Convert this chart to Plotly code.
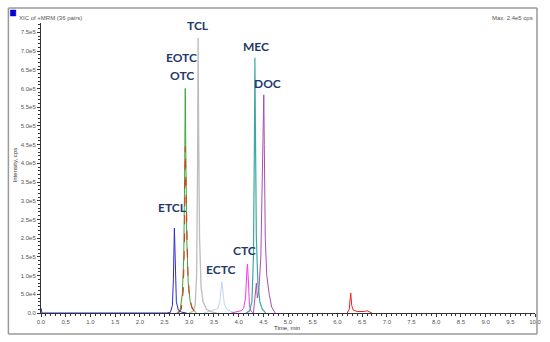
import plotly.graph_objects as go

# ---- data (time in min, intensity in cps) ----
etcl_t = [0.0, 0.02, 2.55, 2.62, 2.66, 2.68, 2.70, 2.72, 2.74, 2.78, 2.85, 2.95]
etcl_y = [1.3e4, 0, 0, 2e3, 2e4, 9e4, 2.27e5, 1.0e5, 3e4, 8e3, 2e3, 0]

otc_t = [2.75, 2.82, 2.86, 2.89, 2.91, 2.92, 2.93, 2.95, 2.98, 3.02, 3.08, 3.15]
otc_y = [0, 1e4, 5e4, 1.5e5, 4e5, 6.0e5, 4.5e5, 2e5, 8e4, 3e4, 8e3, 0]

eotc_t = [2.78, 2.84, 2.88, 2.905, 2.92, 2.93, 2.94, 2.95, 2.97, 3.0, 3.05, 3.12, 3.18]
eotc_y = [0, 1e4, 6e4, 2e5, 4.45e5, 3.6e5, 2.9e5, 2.8e5, 1.2e5, 5e4, 1.5e4, 4e3, 0]

red2_t = [6.2, 6.24, 6.26, 6.27, 6.29, 6.32, 6.4, 6.5, 6.55, 6.6, 6.65, 6.7]
red2_y = [0, 1e4, 4e4, 5.3e4, 2e4, 8e3, 4e3, 3e3, 4e3, 6e3, 2e3, 0]

tcl_t = [3.0, 3.08, 3.12, 3.15, 3.17, 3.18, 3.19, 3.21, 3.24, 3.28, 3.35, 3.45, 3.55]
tcl_y = [0, 5e3, 2e4, 1e5, 4e5, 7.35e5, 5e5, 2e5, 7e4, 3e4, 1e4, 3e3, 0]

ectc_t = [3.3, 3.4, 3.5, 3.58, 3.62, 3.65, 3.66, 3.68, 3.71, 3.76, 3.85, 3.95]
ectc_y = [0, 5e3, 8e3, 1.2e4, 3e4, 7e4, 8.3e4, 6e4, 2.5e4, 1e4, 4e3, 0]

ctc_t = [3.85, 3.95, 4.05, 4.1, 4.14, 4.17, 4.18, 4.2, 4.22, 4.25, 4.3]
ctc_y = [0, 3e3, 6e3, 1.2e4, 4e4, 1.2e5, 1.31e5, 8e4, 2e4, 5e3, 0]

mec_t = [4.15, 4.22, 4.27, 4.30, 4.32, 4.33, 4.34, 4.36, 4.39, 4.43, 4.48, 4.55]
mec_y = [0, 5e3, 3e4, 1.5e5, 4.5e5, 6.82e5, 5e5, 2e5, 8e4, 3e4, 1e4, 0]

doc_t = [4.30, 4.34, 4.36, 4.38, 4.41, 4.45, 4.48, 4.50, 4.51, 4.52, 4.54, 4.57, 4.62, 4.67, 4.70, 4.74]
doc_y = [0, 5e4, 8e4, 4e4, 6e4, 1.5e5, 3.5e5, 5.5e5, 5.83e5, 4.5e5, 2e5, 1e5, 5e4, 1.6e4, 8e3, 0]

labels = ["ETCL", "EOTC", "OTC", "TCL", "ECTC", "CTC", "MEC", "DOC"]
label_t = [2.66, 2.84, 2.86, 3.18, 3.65, 4.12, 4.35, 4.59]
label_y = [2.81e5, 6.82e5, 6.34e5, 7.67e5, 1.15e5, 1.66e5, 7.11e5, 6.12e5]

y_ticks = [i * 5e4 for i in range(16)]
y_tick_text = ["0.0", "5.0e4"] + ["%.1fe5" % (v / 1e5) for v in y_ticks[2:]]
x_ticks = [i * 0.5 for i in range(21)]
x_tick_text = ["%.1f" % v for v in x_ticks]

# figure geometry (pixels)
W, H = 550, 342
ML, MR, MT, MB = 41, 9, 23, 29
PW, PH = W - ML - MR, H - MT - MB


def px(x):
    return (x - ML) / PW


def py(y):
    return (H - MB - y) / PH


fig = go.Figure()


def add(t, y, color, dash="solid", width=1):
    fig.add_trace(go.Scatter(x=t, y=y, mode="lines",
                             line=dict(color=color, width=width, dash=dash),
                             hoverinfo="skip", showlegend=False))


add(ectc_t, ectc_y, "#bcd6ee")
add(tcl_t, tcl_y, "#bdbdbd", width=1.3)
add(otc_t, otc_y, "#3aa83a")
add(eotc_t, eotc_y, "#d2421e", dash="dash", width=1.1)
add(red2_t, red2_y, "#ee2222")
add(etcl_t, etcl_y, "#2b2bd6")
add(ctc_t, ctc_y, "#f03cf0")
add(doc_t, doc_y, "#a84fb0")
add(mec_t, mec_y, "#3fa9a0", width=1.2)

for txt, t, y in zip(labels, label_t, label_y):
    fig.add_annotation(x=t, y=y, text="<b>%s</b>" % txt, showarrow=False,
                       font=dict(family="Lato", size=12, color="#1f3a6b"))

# header texts and axis titles
fig.add_annotation(xref="paper", yref="paper", x=px(17), y=py(13), xanchor="left",
                   text="XIC of +MRM (36 pairs)", showarrow=False,
                   font=dict(family="Liberation Sans", size=6, color="#555"))
fig.add_annotation(xref="paper", yref="paper", x=px(541), y=py(13), xanchor="right",
                   text="Max. 2.4e5 cps", showarrow=False,
                   font=dict(family="Liberation Sans", size=6, color="#555"))
fig.add_annotation(xref="paper", yref="paper", x=px(10), y=py(165), textangle=-90,
                   text="Intensity, cps", showarrow=False,
                   font=dict(family="Liberation Sans", size=6, color="#333"))
fig.add_annotation(xref="paper", yref="paper", x=px(290), y=py(328), yanchor="middle",
                   text="Time, min", showarrow=False,
                   font=dict(family="Liberation Sans", size=6, color="#333"))

# outer frame as four lines
fx0, fx1, fy0, fy1 = px(8), px(543), py(334), py(8)
frame = dict(color="#9a9a9a", width=1.5)
for (a, b, c, d) in [(fx0, fy0, fx1, fy0), (fx0, fy1, fx1, fy1),
                     (fx0, fy0, fx0, fy1), (fx1, fy0, fx1, fy1)]:
    fig.add_shape(type="line", xref="paper", yref="paper",
                  x0=a, y0=b, x1=c, y1=d, line=frame)
fig.add_shape(type="rect", xref="paper", yref="paper",
              x0=px(10), x1=px(15.5), y0=py(16), y1=py(10),
              line=dict(color="#0000cc", width=0.5), fillcolor="#0000dd")

axis_font = dict(family="Liberation Sans", size=6, color="#555")
fig.update_xaxes(range=[0, 10], tickvals=x_ticks, ticktext=x_tick_text,
                 ticks="outside", ticklen=3, tickcolor="#333", showgrid=False,
                 zeroline=False, showline=True, linecolor="#333", linewidth=1,
                 tickfont=axis_font,
                 minor=dict(dtick=0.1, ticks="outside", ticklen=2, tickcolor="#333"))
fig.update_yaxes(range=[0, 7.75e5], tickvals=y_ticks, ticktext=y_tick_text,
                 ticks="outside", ticklen=3, tickcolor="#333", showgrid=False,
                 zeroline=False, showline=True, linecolor="#333", linewidth=1,
                 tickfont=axis_font,
                 minor=dict(dtick=1e4, ticks="outside", ticklen=2, tickcolor="#333"))

fig.update_layout(width=W, height=H, margin=dict(l=ML, r=MR, t=MT, b=MB),
                  plot_bgcolor="white", paper_bgcolor="white")

fig.write_html("out.html", config={"displayModeBar": False},
               post_script="document.body.style.margin='0';document.body.style.overflow='hidden';")
